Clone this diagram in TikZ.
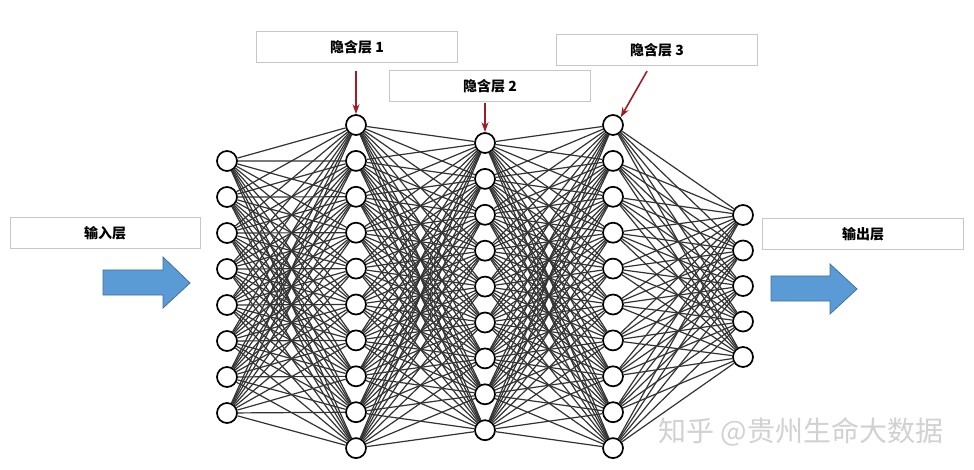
\documentclass[tikz,border=0pt]{standalone}
\usepackage{fontspec}
\newfontfamily\cjk{Noto Sans CJK SC}
\usepackage{xcolor}
\usetikzlibrary{arrows.meta}

\definecolor{arrowblue}{RGB}{91,155,213}
\definecolor{arrowedge}{RGB}{65,113,156}
\definecolor{pointred}{RGB}{160,30,35}

\begin{document}
\begin{tikzpicture}[x=0.5pt,y=-0.5pt,
  neuron/.style={circle,draw,line width=0.85pt,fill=white,minimum size=10pt,inner sep=0pt},
  layerbox/.style={draw=black!22,fill=white,minimum width=100.5pt,minimum height=15.5pt,inner sep=0pt,font=\cjk\bfseries\fontsize{7}{8}\selectfont},
  link/.style={black!80,line width=0.6pt},
  pointer/.style={-{Stealth[length=5pt,width=3.5pt]},pointred,line width=0.8pt}]
  \useasboundingbox[fill=white] (0,0) rectangle (974,470);

  % labels
  \node[layerbox,minimum width=95pt] (lin) at (105,233) {输入层};
  \node[layerbox] (lout) at (863,234) {输出层};
  \node[layerbox] (lh1) at (357,47) {隐含层 1};
  \node[layerbox] (lh2) at (490,86) {隐含层 2};
  \node[layerbox] (lh3) at (657,50) {隐含层 3};

  % neurons
  \foreach \i in {1,...,8}{\node[neuron] (in\i) at (227,{161+36*(\i-1)}) {};}
  \foreach \i in {1,...,10}{\node[neuron] (ha\i) at (356,{125+35.9*(\i-1)}) {};}
  \foreach \i in {1,...,9}{\node[neuron] (hb\i) at (485,{143+35.9*(\i-1)}) {};}
  \foreach \i in {1,...,10}{\node[neuron] (hc\i) at (613,{125+35.9*(\i-1)}) {};}
  \foreach \i in {1,...,5}{\node[neuron] (out\i) at (743,{215+35.5*(\i-1)}) {};}

  % weights
  \foreach \i in {1,...,8}{\foreach \j in {1,...,10}{\draw[link] (in\i) -- (ha\j);}}
  \foreach \i in {1,...,10}{\foreach \j in {1,...,9}{\draw[link] (ha\i) -- (hb\j);}}
  \foreach \i in {1,...,9}{\foreach \j in {1,...,10}{\draw[link] (hb\i) -- (hc\j);}}
  \foreach \i in {1,...,10}{\foreach \j in {1,...,5}{\draw[link] (hc\i) -- (out\j);}}

  % pointers to hidden layers
  \draw[pointer,shorten <=4pt] (lh1.south -| ha1) -- (ha1);
  \draw[pointer,shorten <=0.5pt] (lh2.south -| hb1) -- (hb1);
  \draw[pointer,shorten <=3pt] (lh3.south) ++(-7,0) coordinate (p3) (p3) -- (hc1.north east);

  % block arrows
  \filldraw[fill=arrowblue,draw=arrowedge,line width=0.4pt]
    (103,270) -- (163,270) -- (163,257) -- (190,283) -- (163,308) -- (163,295) -- (103,295) -- cycle;
  \filldraw[fill=arrowblue,draw=arrowedge,line width=0.4pt]
    (771,276) -- (830,276) -- (830,264) -- (857,289) -- (830,314) -- (830,301) -- (771,301) -- cycle;

  % watermark
  \node[text=black!18,font=\cjk\fontsize{14}{16}\selectfont] (mark) at (801,432) {知乎 @贵州生命大数据};
\end{tikzpicture}
\end{document}
